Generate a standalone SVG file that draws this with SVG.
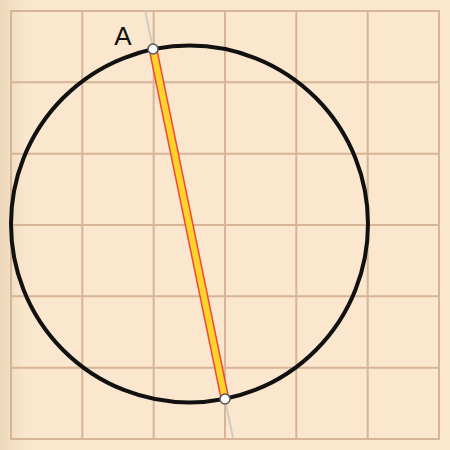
<svg xmlns="http://www.w3.org/2000/svg" width="450" height="450" viewBox="0 0 450 450">
<defs>
<linearGradient id="vig" x1="0" y1="0" x2="1" y2="0">
<stop offset="0" stop-color="#EDD8BC"/>
<stop offset="0.06" stop-color="#FAE7CD"/>
<stop offset="1" stop-color="#FAE7CD"/>
</linearGradient>
<style>
.grid{stroke:#D8B497;stroke-width:2;fill:none}
.pt{fill:#fff;stroke:#555;stroke-width:1.5}
</style>
</defs>
<rect width="450" height="450" fill="url(#vig)"/>
<g id="grid" class="grid">
<rect x="11" y="11" width="428" height="428"/>
<path d="M82.3 11V439M153.7 11V439M225 11V439M296.3 11V439M367.7 11V439M11 82.3H439M11 153.7H439M11 225H439M11 296.3H439M11 367.7H439"/>
</g>
<g id="connectors">
<line x1="145.2" y1="11" x2="233" y2="438" stroke="#D3CCBE" stroke-width="2"/>
<circle cx="189.5" cy="224" r="178.5" fill="none" stroke="#111" stroke-width="4"/>
<line x1="153" y1="49" x2="225" y2="399" stroke="#F04A3A" stroke-width="9"/>
<line x1="153" y1="49" x2="225" y2="399" stroke="#FFD42A" stroke-width="6"/>
</g>
<g id="A">
<circle class="pt" cx="153" cy="49" r="5"/>
<text x="123" y="45" font-family="Liberation Sans, Arial, sans-serif" font-size="26" text-anchor="middle" fill="#111">A</text>
</g>
<g id="B">
<circle class="pt" cx="225" cy="399" r="5"/>
</g>
</svg>
